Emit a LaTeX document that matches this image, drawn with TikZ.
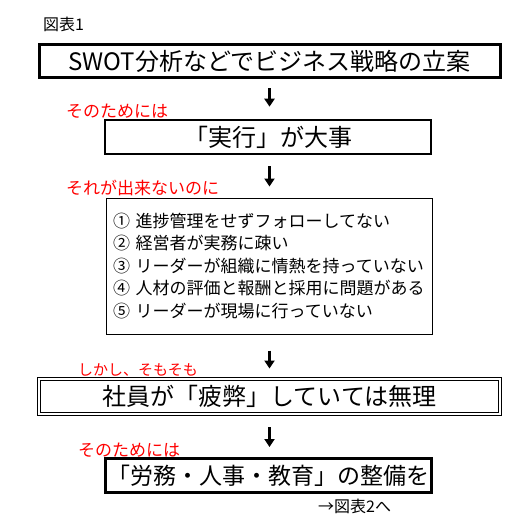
\documentclass[tikz,border=0pt]{standalone}
\usepackage{fontspec}
\setmainfont{Noto Sans CJK JP}
\usetikzlibrary{arrows.meta, positioning}
\definecolor{labelred}{RGB}{255,0,0}

\begin{document}
\begin{tikzpicture}[
    x=1pt, y=-1pt,
    % Block styles
    headblock/.style={
        rectangle, draw=black, line width=3pt,
        font=\fontsize{24}{24}\selectfont,
        minimum height=33pt, inner sep=0pt, align=center
    },
    keyblock/.style={
        rectangle, draw=black, line width=2.6pt,
        font=\fontsize{24}{24}\selectfont,
        minimum width=326pt, minimum height=34pt, inner sep=0pt, align=center
    },
    listblock/.style={
        rectangle, draw=black, line width=1pt,
        font=\fontsize{17}{22.5}\selectfont,
        text width=312pt, minimum height=136pt,
        inner xsep=7pt, inner ysep=0pt, align=left
    },
    doubleblock/.style={
        rectangle, draw=black, line width=0.9pt,
        double, double distance=1.6pt,
        font=\fontsize{24}{24}\selectfont,
        minimum width=461pt, minimum height=35pt, inner sep=0pt, align=center
    },
    note/.style={
        font=\fontsize{17}{17}\selectfont, text=labelred,
        anchor=west, inner sep=0pt
    },
    caption/.style={
        font=\fontsize{16}{16}\selectfont, anchor=west, inner sep=0pt
    },
    downarrow/.style={
        -{Triangle[length=8pt, width=10pt]}, line width=3pt, color=black
    },
]
\useasboundingbox (0,0) rectangle (524,524);

% ===== TITLE =====
\node[caption] (fig) at (43,24) {図表1};

% ===== BOXES =====
\node[headblock, minimum width=461pt] (swot) at (269.5,61.5) {SWOT分析などでビジネス戦略の立案};
\node[keyblock] (jikko) at (268,137) {「実行」が大事};
\node[listblock] (issues) at (269,266) {%
    ① 進捗管理をせずフォローしてない\\
    ② 経営者が実務に疎い\\
    ③ リーダーが組織に情熱を持っていない\\
    ④ 人材の評価と報酬と採用に問題がある\\
    ⑤ リーダーが現場に行っていない};
\node[doubleblock] (hihei) at (269.5,396.5) {社員が「疲弊」していては無理};
\node[keyblock, line width=3pt, font=\fontsize{23}{23}\selectfont] (seibi) at (268.5,475.5) {「労務・人事・教育」の整備を};

% ===== RED NOTES =====
\node[note] (note1) at (66,111) {そのためには};
\node[note] (note2) at (66,188) {それが出来ないのに};
\node[note, font=\fontsize{15}{15}\selectfont] (note3) at (78,370) {しかし、そもそも};
\node[note] (note4) at (78,450) {そのためには};

% ===== FOOTER =====
\node[caption] (next) at (318,506) {→図表2へ};

% ===== ARROWS =====
\draw[downarrow, shorten <=9pt, shorten >=12pt] (swot.south) -- (swot.south |- jikko.north);
\draw[downarrow, shorten <=11pt, shorten >=11pt] (jikko.south -| swot.south) -- (swot.south |- issues.north);
\draw[downarrow, shorten <=16pt, shorten >=10pt] (issues.south -| swot.south) -- (swot.south |- hihei.north);
\draw[downarrow, shorten <=13pt, shorten >=10pt] (hihei.south) -- (hihei.south |- seibi.north);

\end{tikzpicture}
\end{document}
